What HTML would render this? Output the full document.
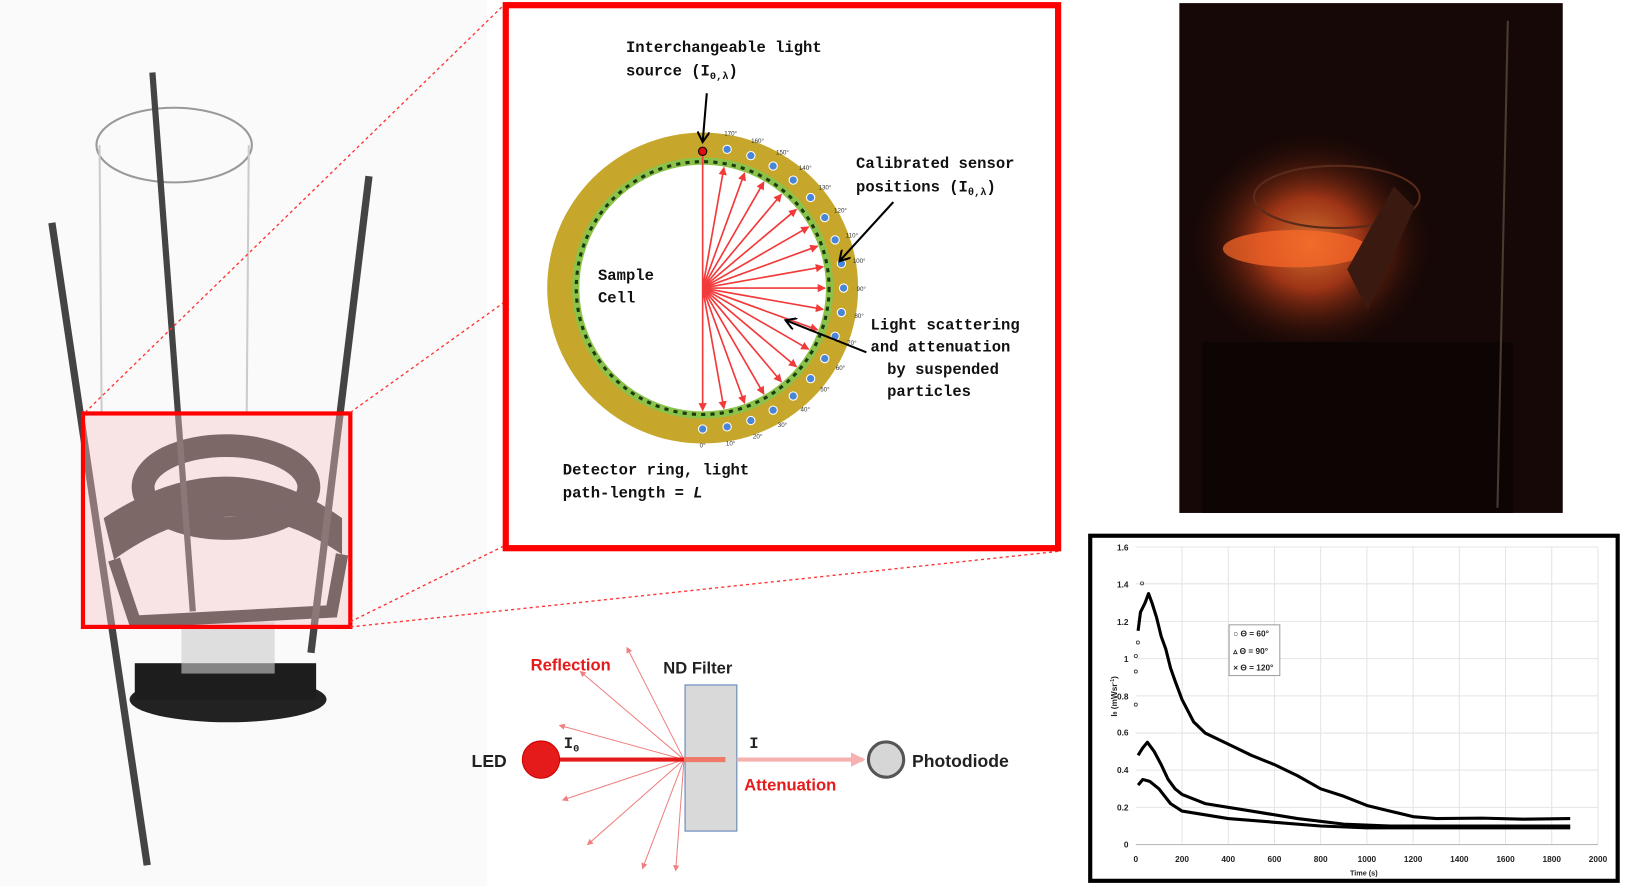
<!DOCTYPE html>
<html><head><meta charset="utf-8"><style>
html,body{margin:0;padding:0;background:#fff;}
svg{display:block;}
.m{font-family:"Liberation Mono",monospace;font-size:15px;fill:#111;font-weight:bold;}
.s{font-family:"Liberation Sans",sans-serif;font-weight:bold;}
.t{font-family:"Liberation Sans",sans-serif;font-size:6px;fill:#333;}
.ax{font-family:"Liberation Sans",sans-serif;font-size:8px;font-weight:bold;fill:#222;}
</style></head><body>
<svg width="1625" height="886" viewBox="0 0 1568 855" xmlns="http://www.w3.org/2000/svg">
<defs>
<marker id="ra" markerWidth="8" markerHeight="8" refX="7" refY="4" orient="auto" markerUnits="userSpaceOnUse"><path d="M0,0 L8,4 L0,8 z" fill="#f23a3a"/></marker>
<marker id="ka" markerWidth="12" markerHeight="12" refX="10" refY="6" orient="auto" markerUnits="userSpaceOnUse"><path d="M0,0 L10,6 L0,12" fill="none" stroke="#000" stroke-width="2"/></marker>
<marker id="sa" markerWidth="6" markerHeight="6" refX="5" refY="3" orient="auto" markerUnits="userSpaceOnUse"><path d="M0,0 L6,3 L0,6 z" fill="#f08080"/></marker>
<marker id="pa" markerWidth="14" markerHeight="14" refX="12" refY="7" orient="auto" markerUnits="userSpaceOnUse"><path d="M0,0 L14,7 L0,14 z" fill="#f6b0b0"/></marker>
<radialGradient id="glow" cx="0.5" cy="0.5" r="0.5"><stop offset="0" stop-color="#ff8a3a"/><stop offset="0.4" stop-color="#c0401a"/><stop offset="1" stop-color="#1a0805" stop-opacity="0"/></radialGradient>
</defs>

<!-- left photo -->
<rect x="0" y="0" width="470" height="855" fill="#fafafa"/>
<ellipse cx="168" cy="140" rx="75" ry="36" fill="none" stroke="#999" stroke-width="2"/>
<line x1="96" y1="140" x2="98" y2="400" stroke="#ccc" stroke-width="2"/>
<line x1="240" y1="140" x2="238" y2="400" stroke="#ccc" stroke-width="2"/>
<ellipse cx="220" cy="675" rx="95" ry="22" fill="#222"/>
<rect x="130" y="640" width="175" height="35" fill="#1d1d1d"/>
<rect x="175" y="600" width="90" height="50" fill="#ccc" opacity="0.6"/>
<path d="M100,500 Q220,420 330,500 L330,535 Q220,460 110,540 Z" fill="#2b2b2b"/>
<ellipse cx="218" cy="470" rx="80" ry="40" fill="none" stroke="#2b2b2b" stroke-width="22"/>
<path d="M110,540 L130,600 L320,590 L330,535" fill="none" stroke="#2b2b2b" stroke-width="12"/>
<line x1="50" y1="215" x2="142" y2="835" stroke="#444" stroke-width="7"/>
<line x1="147" y1="70" x2="186" y2="590" stroke="#444" stroke-width="6"/>
<line x1="356" y1="170" x2="300" y2="630" stroke="#444" stroke-width="7"/>
<rect x="80" y="399" width="258" height="206" fill="#f7c5c5" opacity="0.4" stroke="#ff0000" stroke-width="4"/>
<rect x="80" y="399" width="258" height="206" fill="none" stroke="#ff0000" stroke-width="4"/>

<!-- dotted connectors -->
<g stroke="#f33" stroke-width="1.3" stroke-dasharray="3,3">
<line x1="82" y1="398" x2="486" y2="5"/>
<line x1="338" y1="398" x2="486" y2="292"/>
<line x1="338" y1="600" x2="486" y2="527"/>
<line x1="338" y1="605" x2="1022" y2="532"/>
</g>

<!-- center box -->
<rect x="488" y="5" width="533" height="524" fill="#fff" stroke="#ff0000" stroke-width="6"/>
<circle cx="678" cy="278" r="150" fill="#c6a72c"/>
<circle cx="678" cy="278" r="126" fill="#8bc34a"/>
<circle cx="678" cy="278" r="122" fill="none" stroke="#1f3a10" stroke-width="3" stroke-dasharray="4,5"/>
<circle cx="678" cy="278" r="119" fill="#fff"/>
<g stroke="#f23a3a" stroke-width="1.6" marker-end="url(#ra)">
<line x1="678" y1="150" x2="678" y2="396"/>
<line x1="678" y1="278" x2="698.5" y2="394.2"/><line x1="678" y1="278" x2="718.4" y2="388.9"/>
<line x1="678" y1="278" x2="737" y2="380.2"/><line x1="678" y1="278" x2="753.9" y2="368.4"/>
<line x1="678" y1="278" x2="768.4" y2="353.9"/><line x1="678" y1="278" x2="780.2" y2="337"/>
<line x1="678" y1="278" x2="788.9" y2="318.4"/><line x1="678" y1="278" x2="794.2" y2="298.5"/>
<line x1="678" y1="278" x2="796" y2="278"/><line x1="678" y1="278" x2="794.2" y2="257.5"/>
<line x1="678" y1="278" x2="788.9" y2="237.6"/><line x1="678" y1="278" x2="780.2" y2="219"/>
<line x1="678" y1="278" x2="768.4" y2="202.1"/><line x1="678" y1="278" x2="753.9" y2="187.6"/>
<line x1="678" y1="278" x2="737" y2="175.8"/><line x1="678" y1="278" x2="718.4" y2="167.1"/>
<line x1="678" y1="278" x2="698.5" y2="161.8"/>
</g>
<g fill="#4a86d8" stroke="#fff" stroke-width="1">
<circle cx="678" cy="414" r="4"/><circle cx="701.6" cy="411.9" r="4"/><circle cx="724.5" cy="405.8" r="4"/>
<circle cx="746" cy="395.8" r="4"/><circle cx="765.4" cy="382.2" r="4"/><circle cx="782.2" cy="365.4" r="4"/>
<circle cx="795.8" cy="346" r="4"/><circle cx="805.8" cy="324.5" r="4"/><circle cx="811.9" cy="301.6" r="4"/>
<circle cx="814" cy="278" r="4"/><circle cx="811.9" cy="254.4" r="4"/><circle cx="805.8" cy="231.5" r="4"/>
<circle cx="795.8" cy="210" r="4"/><circle cx="782.2" cy="190.6" r="4"/><circle cx="765.4" cy="173.8" r="4"/>
<circle cx="746" cy="160.2" r="4"/><circle cx="724.5" cy="150.2" r="4"/><circle cx="701.6" cy="144.1" r="4"/>
</g>
<circle cx="678" cy="146" r="4" fill="#e01010" stroke="#000" stroke-width="1"/>
<g class="t" text-anchor="middle">
<text x="678" y="432">0°</text><text x="705" y="430">10°</text><text x="731" y="423">20°</text>
<text x="755" y="412">30°</text><text x="777" y="397">40°</text><text x="796" y="378">50°</text>
<text x="811" y="357">60°</text><text x="822" y="333">70°</text><text x="829" y="307">80°</text>
<text x="831" y="281">90°</text><text x="829" y="254">100°</text><text x="822" y="229">110°</text>
<text x="811" y="205">120°</text><text x="796" y="183">130°</text><text x="777" y="164">140°</text>
<text x="755" y="149">150°</text><text x="731" y="138">160°</text><text x="705" y="131">170°</text>
</g>
<g stroke="#000" stroke-width="2" marker-end="url(#ka)">
<line x1="682" y1="90" x2="678" y2="137"/>
<line x1="862" y1="195" x2="810" y2="252"/>
<line x1="836" y1="340" x2="758" y2="309"/>
</g>
<text class="m" x="604" y="50">Interchangeable light</text>
<text class="m" x="604" y="73">source (I<tspan font-size="10" dy="3">0,λ</tspan><tspan dy="-3">)</tspan></text>
<text class="m" x="826" y="162">Calibrated sensor</text>
<text class="m" x="826" y="185">positions (I<tspan font-size="10" dy="3">θ,λ</tspan><tspan dy="-3">)</tspan></text>
<text class="m" x="577" y="270">Sample</text>
<text class="m" x="577" y="292">Cell</text>
<text class="m" x="840" y="318">Light scattering</text>
<text class="m" x="840" y="339">and attenuation</text>
<text class="m" x="856" y="361">by suspended</text>
<text class="m" x="856" y="382">particles</text>
<text class="m" x="543" y="458">Detector ring, light</text>
<text class="m" x="543" y="480">path-length = <tspan font-style="italic">L</tspan></text>

<!-- bottom diagram -->
<g stroke="#f08080" stroke-width="1" marker-end="url(#sa)">
<line x1="660" y1="733" x2="560" y2="648"/>
<line x1="660" y1="733" x2="605" y2="625"/>
<line x1="660" y1="733" x2="540" y2="700"/>
<line x1="660" y1="733" x2="543" y2="772"/>
<line x1="660" y1="733" x2="567" y2="815"/>
<line x1="660" y1="733" x2="620" y2="838"/>
<line x1="660" y1="733" x2="652" y2="840"/>
</g>
<rect x="661" y="661" width="50" height="141" fill="#d9d9d9" stroke="#5b7fb5" stroke-width="1"/>
<line x1="540" y1="733" x2="662" y2="733" stroke="#e51a1a" stroke-width="4"/>
<line x1="660" y1="733" x2="700" y2="733" stroke="#f07a6a" stroke-width="5"/>
<line x1="711" y1="733" x2="833" y2="733" stroke="#f6b0b0" stroke-width="4" marker-end="url(#pa)"/>
<circle cx="522" cy="733" r="18" fill="#e51a1a" stroke="#c00" stroke-width="1"/>
<circle cx="855" cy="733" r="17" fill="#d6d6d6" stroke="#555" stroke-width="3"/>
<text class="s" x="455" y="740" font-size="17" fill="#222">LED</text>
<text class="s" x="880" y="740" font-size="17" fill="#222">Photodiode</text>
<text class="s" x="640" y="650" font-size="16" fill="#222">ND Filter</text>
<text class="s" x="512" y="647" font-size="16" fill="#e51a1a">Reflection</text>
<text class="s" x="718" y="763" font-size="16" fill="#e51a1a">Attenuation</text>
<text x="544" y="722" font-family="Liberation Mono,monospace" font-size="15" font-weight="bold" fill="#222">I<tspan font-size="10" dy="3">0</tspan></text>
<text x="723" y="722" font-family="Liberation Mono,monospace" font-size="15" font-weight="bold" fill="#222">I</text>

<!-- right photo -->
<rect x="1138" y="3" width="370" height="492" fill="#160806"/>
<ellipse cx="1265" cy="235" rx="120" ry="110" fill="url(#glow)" opacity="0.8"/>
<ellipse cx="1250" cy="240" rx="70" ry="18" fill="#ff6a2a" opacity="0.7"/>
<ellipse cx="1290" cy="190" rx="80" ry="30" fill="none" stroke="#5a2a1a" stroke-width="2"/>
<path d="M1300,260 L1345,180 L1365,200 L1320,300 Z" fill="#3a1a10"/>
<rect x="1160" y="330" width="300" height="165" fill="#0d0504"/>
<line x1="1455" y1="20" x2="1445" y2="490" stroke="#4a3a30" stroke-width="2"/>

<!-- chart -->
<rect x="1052" y="517" width="509" height="333" fill="#fff" stroke="#000" stroke-width="4"/>
<g stroke="#e4e4e4" stroke-width="1">
<line x1="1096" y1="779.1" x2="1542" y2="779.1"/><line x1="1096" y1="743.2" x2="1542" y2="743.2"/>
<line x1="1096" y1="707.4" x2="1542" y2="707.4"/><line x1="1096" y1="671.5" x2="1542" y2="671.5"/>
<line x1="1096" y1="635.6" x2="1542" y2="635.6"/><line x1="1096" y1="599.6" x2="1542" y2="599.6"/>
<line x1="1096" y1="563.4" x2="1542" y2="563.4"/><line x1="1096" y1="527.9" x2="1542" y2="527.9"/>
<line x1="1140.6" y1="528" x2="1140.6" y2="815"/><line x1="1185.2" y1="528" x2="1185.2" y2="815"/>
<line x1="1229.8" y1="528" x2="1229.8" y2="815"/><line x1="1274.4" y1="528" x2="1274.4" y2="815"/>
<line x1="1319" y1="528" x2="1319" y2="815"/><line x1="1363.6" y1="528" x2="1363.6" y2="815"/>
<line x1="1408.2" y1="528" x2="1408.2" y2="815"/><line x1="1452.8" y1="528" x2="1452.8" y2="815"/>
<line x1="1497.4" y1="528" x2="1497.4" y2="815"/><line x1="1542" y1="528" x2="1542" y2="815"/>
</g>
<line x1="1096" y1="815" x2="1542" y2="815" stroke="#bbb"/>
<g class="ax" text-anchor="end">
<text x="1089" y="818">0</text><text x="1089" y="782">0.2</text><text x="1089" y="746">0.4</text>
<text x="1089" y="710">0.6</text><text x="1089" y="675">0.8</text><text x="1089" y="639">1</text>
<text x="1089" y="603">1.2</text><text x="1089" y="567">1.4</text><text x="1089" y="531">1.6</text>
</g>
<g class="ax" text-anchor="middle">
<text x="1096" y="832">0</text><text x="1140.6" y="832">200</text><text x="1185.2" y="832">400</text>
<text x="1229.8" y="832">600</text><text x="1274.4" y="832">800</text><text x="1319" y="832">1000</text>
<text x="1363.6" y="832">1200</text><text x="1408.2" y="832">1400</text><text x="1452.8" y="832">1600</text>
<text x="1497.4" y="832">1800</text><text x="1542" y="832">2000</text>
<text x="1316" y="845" font-size="7">Time (s)</text>
</g>
<text class="ax" font-size="7" transform="translate(1078,672) rotate(-90)" text-anchor="middle">I<tspan font-size="5">θ</tspan> (mWsr<tspan font-size="5" dy="-3">-1</tspan><tspan dy="3">)</tspan></text>
<g fill="none" stroke="#000" stroke-width="3" stroke-linejoin="round">
<polyline points="1098.2,608.7 1100.5,590.8 1104.9,581.8 1108.3,572.8 1111.6,581.8 1116.1,596.1 1120.5,614.1 1125,626.6 1129.5,644.6 1133.9,657.1 1140.6,675.1 1151.8,696.6 1162.9,707.4 1185.2,718.1 1207.5,728.9 1229.8,737.9 1252.1,748.6 1274.4,761.2 1296.7,768.4 1319,777.3 1341.3,782.7 1363.6,788.1 1385.9,789.9 1430,789.5 1470,790.5 1515.2,789.9"/>
<polyline points="1098.2,728.9 1102.7,721.7 1107.2,716.3 1113.8,725.3 1120.5,737.9 1127.2,752.2 1133.9,761.2 1140.6,766.6 1162.9,775.5 1207.5,782.7 1252.1,789.9 1296.7,795.3 1341.3,797.1 1515.2,797.1"/>
<polyline points="1098.2,757.6 1102.7,752.2 1109.4,754 1118.3,761.2 1129.5,775.5 1140.6,782.7 1185.2,789.9 1229.8,793.5 1274.4,797.1 1319,798.9 1515.2,798.9"/>
</g>
<g fill="none" stroke="#333" stroke-width="0.8">
<circle cx="1096" cy="680" r="1.5"/><circle cx="1096" cy="633" r="1.5"/><circle cx="1096" cy="648" r="1.5"/><circle cx="1098" cy="620" r="1.5"/><circle cx="1102" cy="563" r="1.5"/>
</g>
<rect x="1186" y="603" width="49" height="49" fill="#fff" stroke="#888" stroke-width="0.8"/>
<g class="ax" font-size="6.5">
<text x="1190" y="614">○ Θ = 60°</text>
<text x="1190" y="631">▵ Θ = 90°</text>
<text x="1190" y="647">× Θ = 120°</text>
</g>
</svg>
</body></html>
